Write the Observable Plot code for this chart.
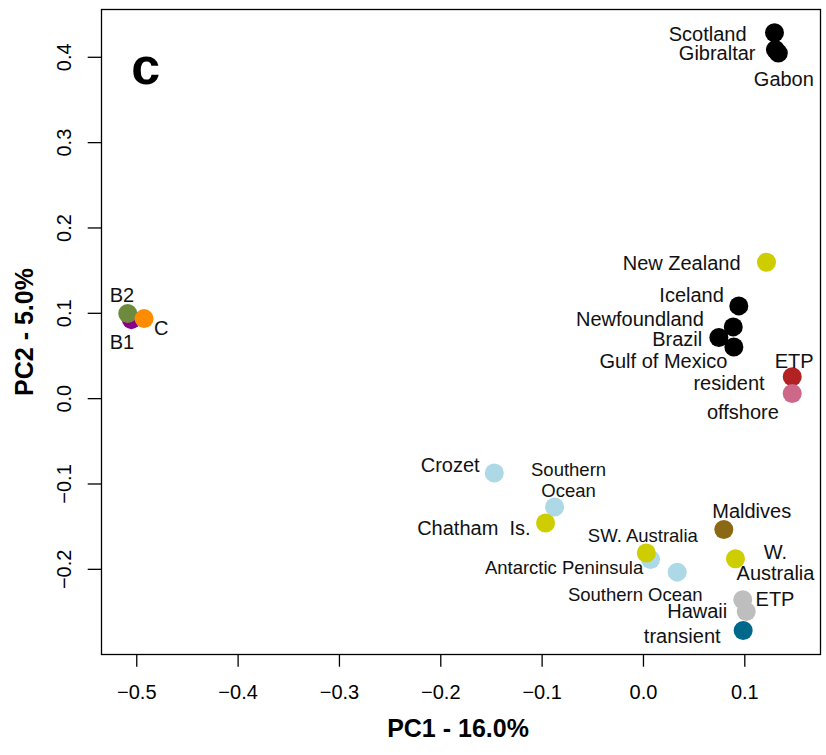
<!DOCTYPE html>
<html>
<head>
<meta charset="utf-8">
<script src="https://cdn.jsdelivr.net/npm/d3@7"></script>
<script src="https://cdn.jsdelivr.net/npm/@observablehq/plot@0.6"></script>
<style>
  html, body { margin: 0; padding: 0; background: #fff; }
  #chart svg { display: block; }
</style>
</head>
<body>
<div id="chart"></div>
<script>
// ---- data ----
const pointIds = ["B1", "B2", "C", "Scotland", "Gibraltar", "Gabon", "New Zealand", "Iceland",
  "Newfoundland", "Brazil", "Gulf of Mexico", "ETP resident", "ETP offshore", "Crozet",
  "Southern Ocean 1", "Chatham Is.", "Antarctic Peninsula", "SW. Australia", "Southern Ocean 2",
  "Maldives", "W. Australia", "Hawaii", "ETP transient", "transient"];
const pc1 = [-0.5053, -0.5089, -0.4928, 0.1293, 0.1302, 0.1331, 0.1214, 0.0941,
  0.0886, 0.0744, 0.0892, 0.1468, 0.1468, -0.1472,
  -0.0877, -0.0966, 0.0070, 0.0028, 0.0333,
  0.0793, 0.0908, 0.1014, 0.0980, 0.0984];
const pc2 = [0.0926, 0.0998, 0.0938, 0.4288, 0.4090, 0.4049, 0.1598, 0.1087,
  0.0841, 0.0716, 0.0606, 0.0256, 0.0060, -0.0871,
  -0.1270, -0.1458, -0.1884, -0.1809, -0.2033,
  -0.1533, -0.1876, -0.2494, -0.2356, -0.2716];
const pointColors = ["#8B008B", "#6E8B3D", "#FF8C00", "#000000", "#000000", "#000000", "#CDCD00", "#000000",
  "#000000", "#000000", "#000000", "#B22222", "#CD6889", "#ADD8E6",
  "#ADD8E6", "#CDCD00", "#ADD8E6", "#CDCD00", "#ADD8E6",
  "#8B6914", "#CDCD00", "#BEBEBE", "#BEBEBE", "#00688B"];

// label texts with their placement (in data units) and alignment
const labelTexts = ["Scotland", "Gibraltar", "Gabon", "B2", "B1", "C", "New Zealand", "Iceland",
  "Newfoundland", "Brazil", "Gulf of Mexico", "ETP", "resident", "offshore", "Crozet",
  "Southern\nOcean", "Chatham  Is.", "SW. Australia", "Antarctic Peninsula", "Southern Ocean",
  "Maldives", "W.\nAustralia", "ETP", "Hawaii", "transient"];
const labelX = [0.1017, 0.1106, 0.1089, -0.5267, -0.5267, -0.4829, 0.0958, 0.0793,
  0.0596, 0.0580, 0.0827, 0.1487, 0.1195, 0.1336, -0.1617,
  -0.0739, -0.1114, 0.0537, -0.0002, -0.0081,
  0.1068, 0.1303, 0.1106, 0.0827, 0.0761];
const labelY = [0.4274, 0.4049, 0.3738, 0.1211, 0.0660, 0.0821, 0.1589, 0.1217,
  0.0934, 0.0695, 0.0443, 0.0440, 0.0185, -0.0161, -0.0780,
  -0.0952, -0.1518, -0.1606, -0.1978, -0.2290,
  -0.1319, -0.1922, -0.2351, -0.2492, -0.2785];
const labelAlign = ["end", "end", "start", "start", "start", "start", "end", "end",
  "end", "end", "end", "middle", "end", "end", "end",
  "middle", "end", "end", "end", "middle",
  "middle", "middle", "start", "end", "end"];
const labelKind = ["big", "big", "big", "big", "big", "big", "big", "big",
  "big", "big", "big", "big", "big", "big", "big",
  "small", "big", "small", "small", "small",
  "big", "big", "big", "big", "big"];

const xTicks = [-0.5, -0.4, -0.3, -0.2, -0.1, 0.0, 0.1];
const yTicks = [-0.2, -0.1, 0.0, 0.1, 0.2, 0.3, 0.4];
const xTitle = "PC1 - 16.0%";
const yTitle = "PC2 - 5.0%";
const panelTag = "c";

// ---- build tables ----
const points = pointIds.map((id, i) => ({id, pc1: pc1[i], pc2: pc2[i], color: pointColors[i]}));
const labels = labelTexts.map((t, i) => ({t, x: labelX[i], y: labelY[i], align: labelAlign[i], kind: labelKind[i]}));

const FONT = "'Liberation Sans', Arial, Helvetica, sans-serif";
const fmt = d3.format(".1f");

const labelMarks = [];
for (const kind of ["big", "small"]) {
  for (const align of ["start", "middle", "end"]) {
    const subset = labels.filter(d => d.kind === kind && d.align === align);
    if (!subset.length) continue;
    labelMarks.push(Plot.text(subset, {
      x: "x", y: "y", text: "t",
      textAnchor: align, lineAnchor: "middle",
      fontSize: kind === "big" ? 20 : 18.5,
      lineHeight: kind === "big" ? 1.05 : 1.13,
      fill: "#111"
    }));
  }
}

const chart = Plot.plot({
  width: 826,
  height: 755,
  marginLeft: 101,
  marginRight: 6,
  marginTop: 9,
  marginBottom: 101,
  x: {domain: [-0.5348, 0.1747]},
  y: {domain: [-0.2998, 0.456]},
  color: {type: "identity"},
  style: {fontFamily: FONT, background: "white", color: "black", overflow: "visible"},
  marks: [
    Plot.axisX({ticks: xTicks, tickFormat: fmt, tickSize: 12.7, tickPadding: 18, fontSize: 20, label: null, strokeWidth: 1.3}),
    Plot.axisY({ticks: yTicks, tickFormat: fmt, tickSize: 13.3, tickPadding: 17, tickRotate: -90, fontSize: 20, label: null, strokeWidth: 1.3}),
    Plot.dot(points, {x: "pc1", y: "pc2", r: 9.5, fill: "color", stroke: null}),
    ...labelMarks,
    Plot.text([panelTag], {x: -0.5055, y: 0.3885, text: d => d, textAnchor: "start", lineAnchor: "middle", fontSize: 52, fontWeight: "bold", fill: "black"}),
    Plot.text([xTitle], {frameAnchor: "bottom", text: d => d, textAnchor: "middle", lineAnchor: "middle", dy: 74, dx: -3, fontSize: 25, fontWeight: "bold", fill: "black"}),
    Plot.text([yTitle], {frameAnchor: "left", text: d => d, textAnchor: "middle", lineAnchor: "middle", rotate: -90, dx: -76.7, fontSize: 25, fontWeight: "bold", fill: "black"}),
    Plot.frame({stroke: "black", strokeWidth: 1.3})
  ]
});
document.getElementById("chart").appendChild(chart);
</script>
</body>
</html>
